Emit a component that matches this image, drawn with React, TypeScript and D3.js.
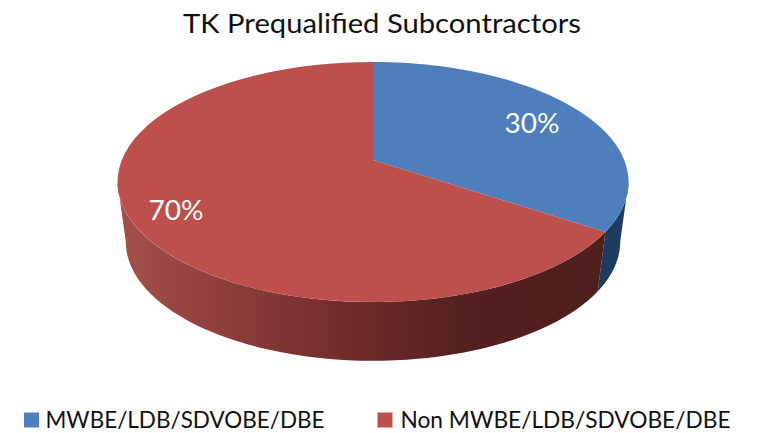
import React from "react";
import * as d3 from "d3";

const title = "TK Prequalified Subcontractors";
const categories = ["MWBE/LDB/SDVOBE/DBE", "Non MWBE/LDB/SDVOBE/DBE"];
const valueLabels = ["30%", "70%"];
// share of the turn each slice actually sweeps in the picture
const sweptShares = [34.4, 65.6];
const topColors = ["#4e7fbc", "#bd504d"];
const sideColors = ["url(#blueSide)", "url(#redSide)"];

const width = 759;
const height = 433;

// tilted disc: k is the perspective, hub is where the slices meet
function disc(hubX, hubY, radius, squash, k) {
    return (a) => {
        const w = 1 + k * Math.cos(a);
        return [hubX + (radius * Math.sin(a)) / w, hubY - (squash * Math.cos(a)) / w];
    };
}

const top = disc(373, 160, 251.2, 116, 0.1833);
const base = disc(373, 220, 243, 115, 0.1833);
const line = d3.line();

function rim(fn, a0, a1) {
    return d3.range(0, 61).map((i) => fn(a0 + ((a1 - a0) * i) / 60));
}

export default function App() {
    const arcs = d3.pie().sort(null)(sweptShares);
    // the rim is visible between the two widest points of the ellipse
    const widest = Math.acos(-0.1833);
    const sideRange = [widest, 2 * Math.PI - widest];

    const labelPos = [
        [532, 133],
        [176, 220],
    ];

    return (
        <svg
            width={width}
            height={height}
            style={{ position: "absolute", left: 0, top: 0, background: "#fff" }}
            fontFamily="Lato, 'Open Sans', sans-serif"
        >
            <defs>
                <linearGradient id="redSide" gradientUnits="userSpaceOnUse" x1="118" x2="610" y1="0" y2="0">
                    <stop offset="0" stopColor="#a5504b" />
                    <stop offset="0.25" stopColor="#8a3b38" />
                    <stop offset="0.5" stopColor="#6b2a28" />
                    <stop offset="0.72" stopColor="#52201e" />
                    <stop offset="1" stopColor="#4e1f1c" />
                </linearGradient>
                <linearGradient id="blueSide" gradientUnits="userSpaceOnUse" x1="598" x2="628" y1="0" y2="0">
                    <stop offset="0" stopColor="#1d3a5f" />
                    <stop offset="1" stopColor="#1f3d63" />
                </linearGradient>
            </defs>

            {arcs.map((d, i) => {
                const a0 = Math.max(d.startAngle, sideRange[0]);
                const a1 = Math.min(d.endAngle, sideRange[1]);
                const pts = [...rim(top, a0, a1), ...rim(base, a0, a1).reverse()];
                return <path key={i} d={line(pts) + "Z"} fill={sideColors[i]} />;
            })}

            {arcs.map((d, i) => (
                <path
                    key={i}
                    d={line([[373, 160], ...rim(top, d.startAngle, d.endAngle)]) + "Z"}
                    fill={topColors[i]}
                />
            ))}

            {valueLabels.map((t, i) => (
                <text key={t} x={labelPos[i][0]} y={labelPos[i][1]} textAnchor="middle" fontSize="27" fill="#fff" textLength="55" lengthAdjust="spacingAndGlyphs">
                    {t}
                </text>
            ))}

            <text x={382} y={32.5} textAnchor="middle" fontSize="26.5" fill="#111" textLength="398" lengthAdjust="spacingAndGlyphs">
                {title}
            </text>

            <rect x={24} y={412.5} width={15} height={15} fill={topColors[0]} />
            <text x={45.5} y={428} fontSize="23.5" fill="#111" textLength="279" lengthAdjust="spacingAndGlyphs">
                {categories[0]}
            </text>
            <rect x={377.5} y={412.5} width={15} height={15} fill={topColors[1]} />
            <text x={400.5} y={428} fontSize="23.5" fill="#111" textLength="330" lengthAdjust="spacingAndGlyphs">
                {categories[1]}
            </text>
        </svg>
    );
}
